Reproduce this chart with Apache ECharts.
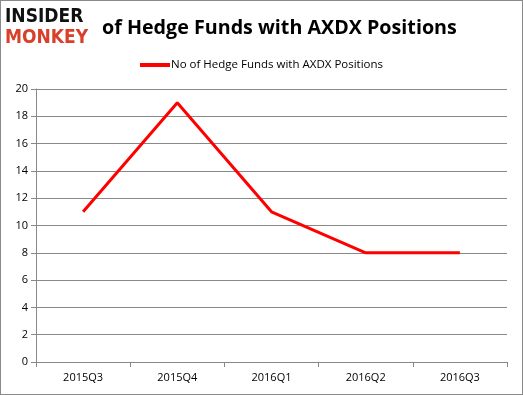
<!DOCTYPE html>
<html><head><meta charset="utf-8">
<script src="https://cdn.jsdelivr.net/npm/echarts@6/dist/echarts.min.js"></script>
<style>html,body{margin:0;padding:0;background:#fff}#c{width:523px;height:395px;box-sizing:border-box;border:1px solid #8a8a8a}</style>
</head><body><div id="c"></div>
<script>
const categories = ['2015Q3','2015Q4','2016Q1','2016Q2','2016Q3'];
const seriesName = 'No of Hedge Funds with AXDX Positions';
const values = [11, 19, 11, 8, 8];
const yTicks = {min: 0, max: 20, interval: 2};

const chart = echarts.init(document.getElementById('c'));
chart.setOption({
  animation: false,
  backgroundColor: '#fff',
  title: {
    text: 'of Hedge Funds with AXDX Positions',
    left: 96, top: 12,
    textStyle: {fontFamily: 'Open Sans', fontWeight: 'bold', fontSize: 19.7, color: '#000'}
  },
  graphic: [
    {type: 'text', left: 4, top: 7, style: {text: 'INSIDER', fontFamily: 'DejaVu Sans Condensed', fontWeight: 'bold', fontSize: 19, fill: '#111'}},
    {type: 'text', left: 4, top: 28, style: {text: 'MONKEY', fontFamily: 'DejaVu Sans Condensed', fontWeight: 'bold', fontSize: 19, fill: '#d9402b'}}
  ],
  legend: {
    top: 53, left: 134,
    itemWidth: 30, itemHeight: 4, itemGap: 2,
    icon: 'rect',
    textStyle: {fontFamily: 'Open Sans', fontSize: 11.5, color: '#000', padding: [0,0,0,-4]},
    data: [seriesName]
  },
  grid: {left: 35, right: 15, top: 88, bottom: 32, containLabel: false},
  xAxis: {
    type: 'category', data: categories, boundaryGap: true,
    axisLine: {lineStyle: {color: '#888'}},
    axisTick: {show: true, length: 5, lineStyle: {color: '#888'}},
    axisLabel: {fontFamily: 'Open Sans', fontSize: 11, color: '#000', margin: 10}
  },
  yAxis: {
    type: 'value', min: yTicks.min, max: yTicks.max, interval: yTicks.interval,
    axisLine: {show: true, lineStyle: {color: '#888'}},
    axisTick: {show: true, length: 5, lineStyle: {color: '#888'}},
    splitLine: {lineStyle: {color: '#888'}},
    axisLabel: {fontFamily: 'Open Sans', fontSize: 11, color: '#000', margin: 8}
  },
  series: [{
    name: seriesName, type: 'line', data: values,
    symbol: 'none',
    lineStyle: {color: '#ff0000', width: 3},
    itemStyle: {color: '#ff0000'}
  }]
});
</script></body></html>
